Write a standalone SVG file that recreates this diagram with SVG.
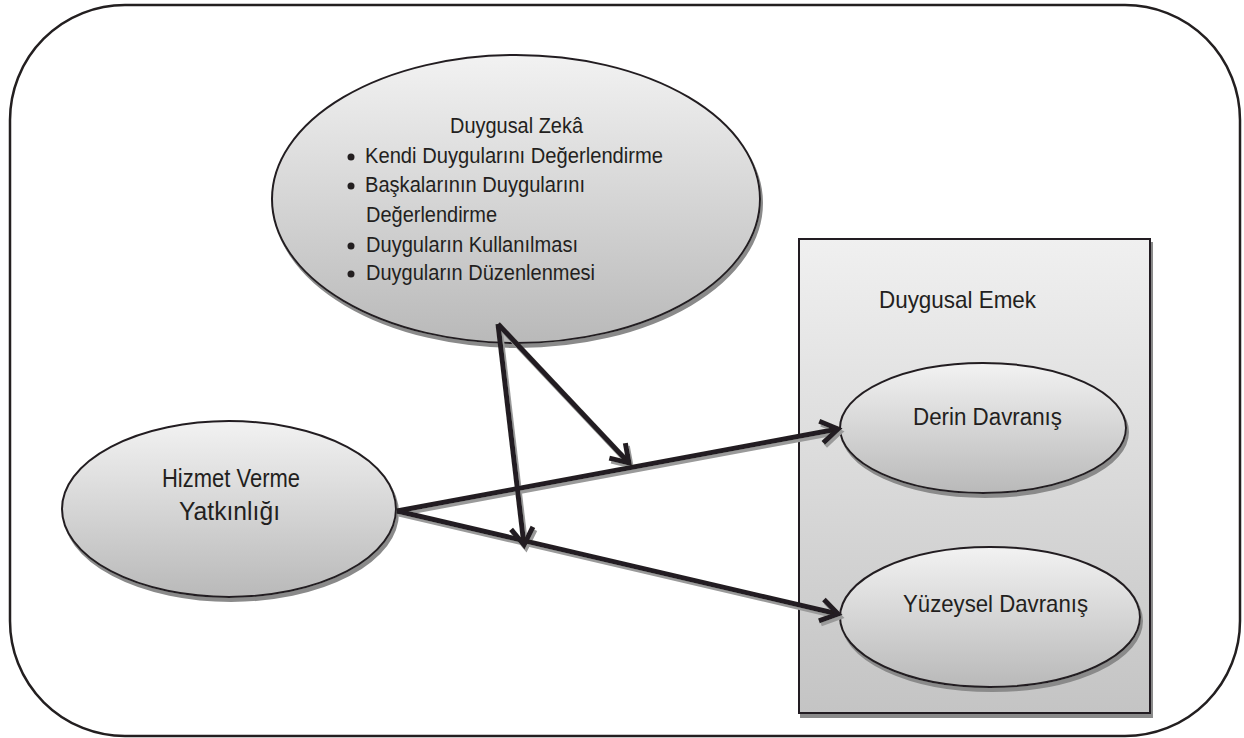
<svg xmlns="http://www.w3.org/2000/svg" width="1244" height="738" viewBox="0 0 1244 738">
<defs>
<style>
.t{font-family:"Liberation Sans",Arial,sans-serif;fill:#231f20;font-size:22px}
.node{stroke:#231f20;stroke-width:2}
.conn{stroke:#231f20;stroke-width:5;fill:none}
</style>
<linearGradient id="g" x1="0" y1="0" x2="0" y2="1">
<stop offset="0" stop-color="#f2f2f2"/>
<stop offset="1" stop-color="#b9b9b9"/>
</linearGradient>
<linearGradient id="gb" x1="0" y1="0" x2="0" y2="1">
<stop offset="0" stop-color="#f0f0f0"/>
<stop offset="1" stop-color="#c4c4c4"/>
</linearGradient>
<filter id="sh" x="-10%" y="-10%" width="120%" height="120%">
<feFlood flood-color="#8a8a8a" result="f"/>
<feOffset in="SourceAlpha" dx="2" dy="4" result="o"/>
<feComposite in="f" in2="o" operator="in" result="s"/>
<feMerge><feMergeNode in="s"/><feMergeNode in="SourceGraphic"/></feMerge>
</filter>
<filter id="shl" x="-10%" y="-10%" width="120%" height="120%">
<feFlood flood-color="#9a9a9a" result="f"/>
<feOffset in="SourceAlpha" dx="2" dy="3" result="o"/>
<feComposite in="f" in2="o" operator="in" result="s"/>
<feMerge><feMergeNode in="s"/><feMergeNode in="SourceGraphic"/></feMerge>
</filter>
<marker id="ah" markerUnits="userSpaceOnUse" markerWidth="40" markerHeight="40" viewBox="-30 -20 40 40" refX="0" refY="0" orient="auto">
<path d="M-17,-11 L0,0 L-17,11" fill="none" stroke="#231f20" stroke-width="5" stroke-linejoin="miter"/>
</marker>
</defs>
<rect x="0" y="0" width="1244" height="738" fill="#fff"/>
<rect id="frame" x="10" y="5" width="1230" height="731" rx="115" ry="115" fill="none" stroke="#231f20" stroke-width="2.5"/>

<g id="duygusal-emek">
<rect x="799" y="239" width="351" height="474" fill="url(#gb)" stroke="#231f20" stroke-width="2" filter="url(#sh)"/>
<text class="t" x="879" y="308" style="font-size:24px" textLength="157" lengthAdjust="spacingAndGlyphs">Duygusal Emek</text>
</g>

<g id="duygusal-zeka">
<ellipse class="node" cx="516" cy="199" rx="244" ry="144" fill="url(#g)" filter="url(#sh)"/>
<text class="t" x="450" y="133" textLength="133" lengthAdjust="spacingAndGlyphs">Duygusal Zekâ</text>
<circle cx="351" cy="157" r="3.5" fill="#231f20"/>
<text class="t" x="365" y="163" textLength="298" lengthAdjust="spacingAndGlyphs">Kendi Duygularını Değerlendirme</text>
<circle cx="351" cy="186" r="3.5" fill="#231f20"/>
<text class="t" x="365" y="192" textLength="220" lengthAdjust="spacingAndGlyphs">Başkalarının Duygularını</text>
<text class="t" x="366" y="222" textLength="131" lengthAdjust="spacingAndGlyphs">Değerlendirme</text>
<circle cx="351" cy="246" r="3.5" fill="#231f20"/>
<text class="t" x="366" y="252" textLength="212" lengthAdjust="spacingAndGlyphs">Duyguların Kullanılması</text>
<circle cx="351" cy="274" r="3.5" fill="#231f20"/>
<text class="t" x="366" y="280" textLength="229" lengthAdjust="spacingAndGlyphs">Duyguların Düzenlenmesi</text>
</g>

<g id="hizmet">
<ellipse class="node" cx="229" cy="509" rx="167" ry="88" fill="url(#g)" filter="url(#sh)"/>
<text class="t" x="162" y="487" style="font-size:25px" textLength="138" lengthAdjust="spacingAndGlyphs">Hizmet Verme</text>
<text class="t" x="179" y="520" style="font-size:25px" textLength="101" lengthAdjust="spacingAndGlyphs">Yatkınlığı</text>
</g>

<g id="derin">
<ellipse class="node" cx="983" cy="428" rx="143" ry="65" fill="url(#g)" filter="url(#sh)"/>
<text class="t" x="913" y="425" style="font-size:23px" textLength="149" lengthAdjust="spacingAndGlyphs">Derin Davranış</text>
</g>

<g id="yuzeysel">
<ellipse class="node" cx="990" cy="617" rx="150" ry="70" fill="url(#g)" filter="url(#sh)"/>
<text class="t" x="903" y="612" style="font-size:24px" textLength="185" lengthAdjust="spacingAndGlyphs">Yüzeysel Davranış</text>
</g>

<g id="connectors" filter="url(#shl)">
<line class="conn" x1="397" y1="511" x2="838" y2="429" marker-end="url(#ah)"/>
<line class="conn" x1="397" y1="511" x2="838" y2="614" marker-end="url(#ah)"/>
<line class="conn" x1="498" y1="324" x2="629" y2="463" marker-end="url(#ah)"/>
<line class="conn" x1="498" y1="324" x2="524" y2="545" marker-end="url(#ah)"/>
</g>
</svg>
